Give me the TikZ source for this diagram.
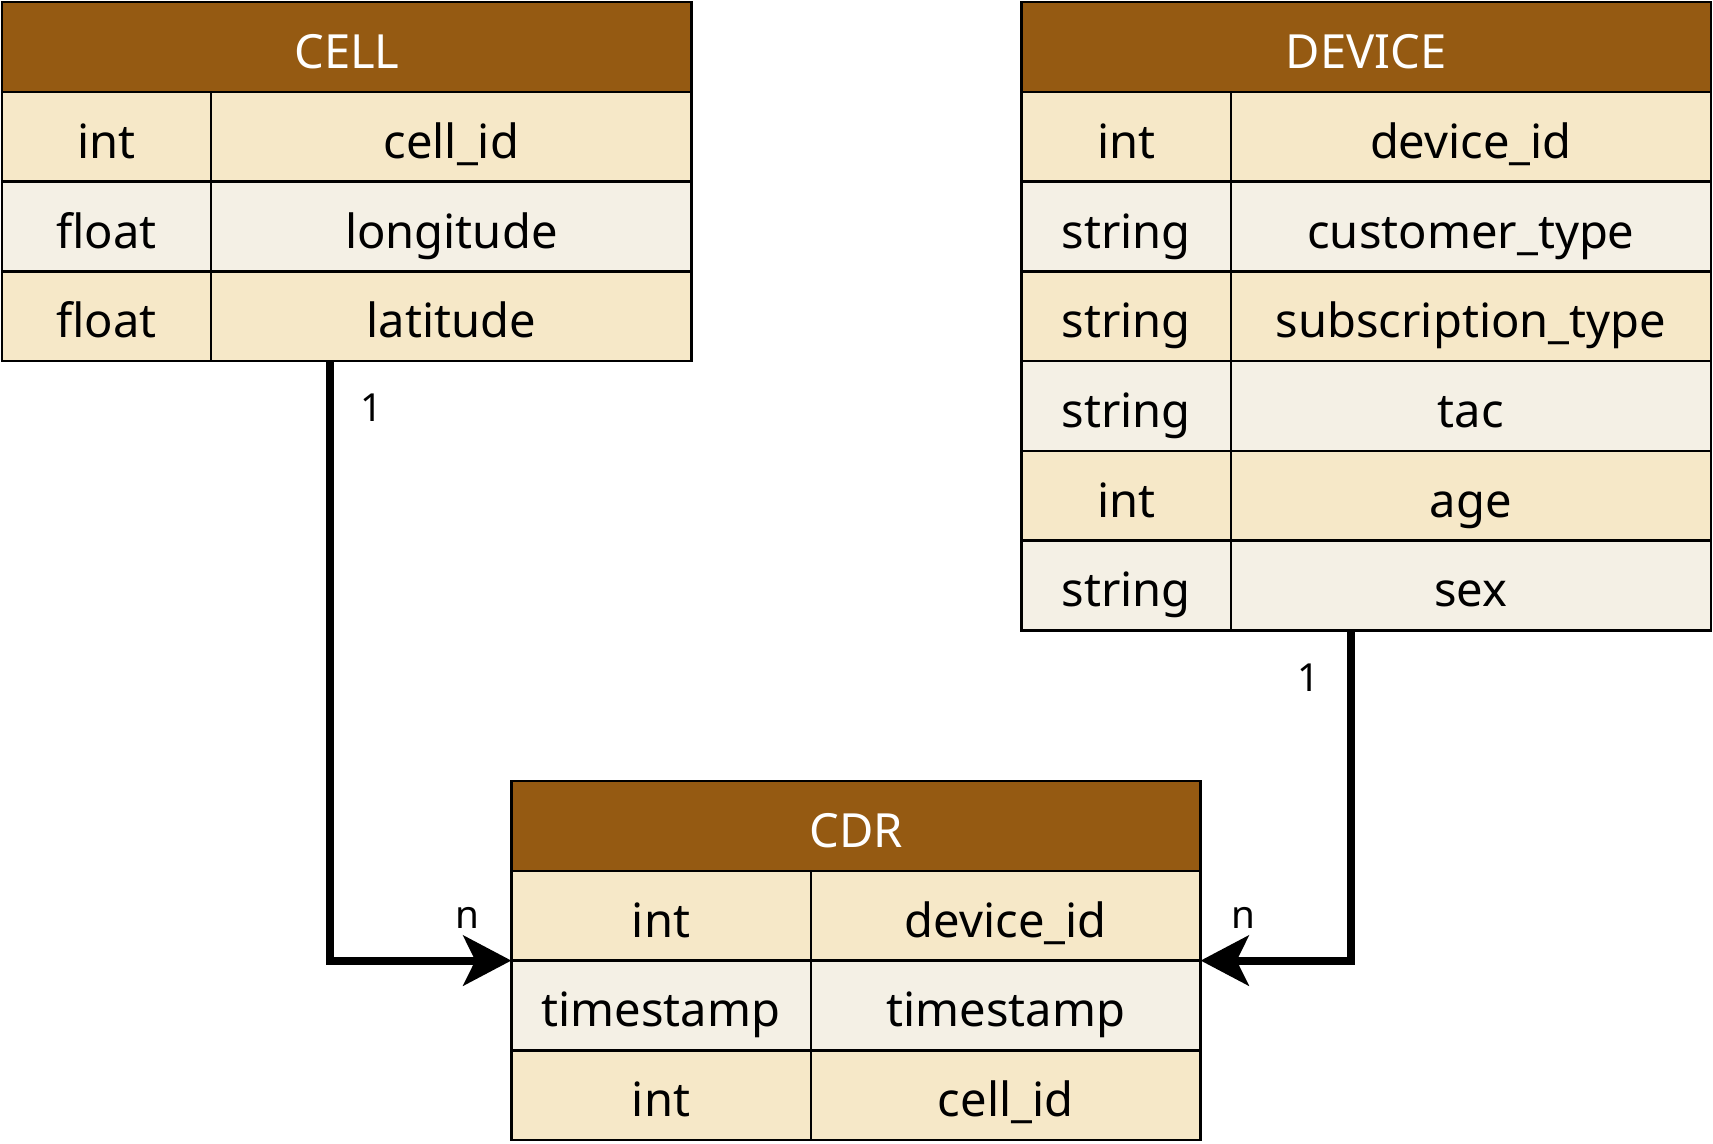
\documentclass[tikz,border=0pt]{standalone}
\usepackage{fontspec}
\setmainfont{Noto Sans}
\usetikzlibrary{positioning,arrows.meta}
\definecolor{headbrown}{HTML}{955A12}
\definecolor{rowdark}{HTML}{F6E8C8}
\definecolor{rowlight}{HTML}{F4F0E5}
\begin{document}
\begin{tikzpicture}[x=0.02cm, y=-0.02cm,
    cellbox/.style={rectangle, draw, line width=1.4pt, inner sep=0pt, outer sep=0pt, anchor=north west,
        minimum height=1.795cm, text height=0.86cm, text depth=0pt, font=\fontsize{26.8}{30}\selectfont},
    head/.style={cellbox, fill=headbrown, text=white, minimum width=13.79cm},
    typec/.style={cellbox, minimum width=#1},
    namec/.style={cellbox, minimum width=#1},
    dark/.style={fill=rowdark},
    light/.style={fill=rowlight},
    rel/.style={line width=4.5pt, -{Stealth[length=0.96cm, width=1cm, inset=0.24cm]}},
    card/.style={font=\fontsize{22}{25}\selectfont},
]
\useasboundingbox (0,0) rectangle (1713,1143);

% CELL table
\node[head] (cellhead) at (2.2,2.2) {CELL};
\node[typec=4.18cm, dark] (cellt1) at (cellhead.south west) {int};
\node[namec=9.61cm, dark] (celln1) at (cellt1.north east) {cell\_id};
\node[typec=4.18cm, light] (cellt2) at (cellt1.south west) {float};
\node[namec=9.61cm, light] (celln2) at (cellt2.north east) {longitude};
\node[typec=4.18cm, dark] (cellt3) at (cellt2.south west) {float};
\node[namec=9.61cm, dark] (celln3) at (cellt3.north east) {latitude};

% DEVICE table
\node[head] (devhead) at (1021.5,2.2) {DEVICE};
\node[typec=4.19cm, dark] (devt1) at (devhead.south west) {int};
\node[namec=9.6cm, dark] (devn1) at (devt1.north east) {device\_id};
\node[typec=4.19cm, light] (devt2) at (devt1.south west) {string};
\node[namec=9.6cm, light] (devn2) at (devt2.north east) {customer\_type};
\node[typec=4.19cm, dark] (devt3) at (devt2.south west) {string};
\node[namec=9.6cm, dark] (devn3) at (devt3.north east) {subscription\_type};
\node[typec=4.19cm, light] (devt4) at (devt3.south west) {string};
\node[namec=9.6cm, light] (devn4) at (devt4.north east) {tac};
\node[typec=4.19cm, dark] (devt5) at (devt4.south west) {int};
\node[namec=9.6cm, dark] (devn5) at (devt5.north east) {age};
\node[typec=4.19cm, light] (devt6) at (devt5.south west) {string};
\node[namec=9.6cm, light] (devn6) at (devt6.north east) {sex};

% CDR table
\node[head] (cdrhead) at (511.3,781.1) {CDR};
\node[typec=5.99cm, dark] (cdrt1) at (cdrhead.south west) {int};
\node[namec=7.8cm, dark] (cdrn1) at (cdrt1.north east) {device\_id};
\node[typec=5.99cm, light] (cdrt2) at (cdrt1.south west) {timestamp};
\node[namec=7.8cm, light] (cdrn2) at (cdrt2.north east) {timestamp};
\node[typec=5.99cm, dark] (cdrt3) at (cdrt2.south west) {int};
\node[namec=7.8cm, dark] (cdrn3) at (cdrt3.north east) {cell\_id};

% Relations
\draw[rel] ([xshift=2.38cm]celln3.south west) |- (cdrt1.south west);
\draw[rel] ([xshift=2.4cm]devn6.south west) |- (cdrn1.south east);

% Cardinalities
\node[card] (cellone) at (371.4,407.5) {1};
\node[card] (celln) at (467.6,917.7) {n};
\node[card] (devone) at (1308.8,677.4) {1};
\node[card] (devn) at (1243.2,917.7) {n};

\end{tikzpicture}
\end{document}
